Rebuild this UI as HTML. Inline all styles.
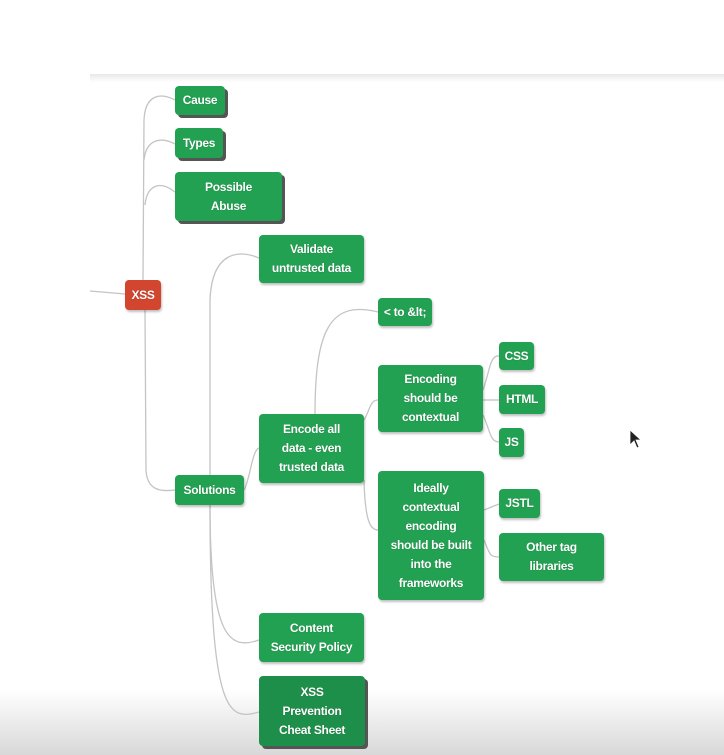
<!DOCTYPE html>
<html><head><style>
body{margin:0;width:724px;height:755px;overflow:hidden;background:#fff;font-family:"Liberation Sans",sans-serif;position:relative}
.bg{position:absolute;left:0;top:0;width:724px;height:755px;background:linear-gradient(#fff 0,#fff 690px,#d8d8d8 755px)}
.top{position:absolute;left:90px;top:74px;width:634px;height:8px;background:linear-gradient(#e8e8e8,#fff)}
.n{position:absolute;background:#23a152;color:#fff;font-weight:bold;font-size:12px;line-height:19px;letter-spacing:-0.3px;text-align:center;border-radius:4px;display:flex;align-items:center;justify-content:center;box-shadow:1px 2px 2px rgba(0,0,0,.25);text-shadow:0 0 1px rgba(0,0,0,.3)}
.d{box-shadow:3px 3px 0 #555}
.r{background:#d2452f}
svg{position:absolute;left:0;top:0}
</style></head><body>
<div class="bg"></div><div class="top"></div>
<svg width="724" height="755" fill="none" stroke="#c4c4c4" stroke-width="1.3">
<path d="M90 291 L125 294"/>
<path d="M143 280 L144 120 C145 95 160 92 175 100"/>
<path d="M144 160 C146 140 160 136 175 144"/>
<path d="M145 205 C147 185 160 180 175 192"/>
<path d="M145 310 L146 470 C147 490 160 492 175 490"/>
<path d="M244 490 C250 480 252 450 259 448"/>
<path d="M210 505 L210 300 C212 250 240 250 259 258"/>
<path d="M210 505 C210 640 230 650 259 640"/>
<path d="M210 505 C210 720 230 720 259 712"/>
<path d="M315 414 C315 330 330 300 378 312"/>
<path d="M364 420 C370 410 370 400 378 400"/>
<path d="M364 480 C365 520 370 530 378 530"/>
<path d="M483 390 C490 370 490 355 499 356"/>
<path d="M483 400 L499 400"/>
<path d="M483 415 C490 430 490 442 499 442"/>
<path d="M484 510 L499 504"/>
<path d="M484 540 C490 555 490 557 499 557"/>
</svg>
<div class="n r" style="left:125px;top:280px;width:36px;height:30px">XSS</div>
<div class="n d" style="left:175px;top:86px;width:50px;height:29px">Cause</div>
<div class="n d" style="left:175px;top:128px;width:48px;height:30px">Types</div>
<div class="n d" style="left:175px;top:172px;width:107px;height:49px">Possible<br>Abuse</div>
<div class="n" style="left:259px;top:235px;width:105px;height:48px">Validate<br>untrusted data</div>
<div class="n" style="left:378px;top:298px;width:54px;height:28px">&lt; to &amp;lt;</div>
<div class="n" style="left:378px;top:365px;width:105px;height:67px">Encoding<br>should be<br>contextual</div>
<div class="n" style="left:499px;top:342px;width:35px;height:28px">CSS</div>
<div class="n" style="left:499px;top:385px;width:46px;height:29px">HTML</div>
<div class="n" style="left:499px;top:428px;width:25px;height:29px">JS</div>
<div class="n" style="left:259px;top:414px;width:105px;height:69px">Encode all<br>data - even<br>trusted data</div>
<div class="n" style="left:175px;top:475px;width:69px;height:30px">Solutions</div>
<div class="n" style="left:378px;top:471px;width:106px;height:129px">Ideally<br>contextual<br>encoding<br>should be built<br>into the<br>frameworks</div>
<div class="n" style="left:499px;top:489px;width:41px;height:29px">JSTL</div>
<div class="n" style="left:499px;top:533px;width:105px;height:48px">Other tag<br>libraries</div>
<div class="n" style="left:259px;top:613px;width:105px;height:49px">Content<br>Security Policy</div>
<div class="n d" style="left:259px;top:676px;width:106px;height:70px;background:#1e8f4a">XSS<br>Prevention<br>Cheat Sheet</div>
<svg width="724" height="755" style="pointer-events:none"><path d="M630 430 L630 445 L634 441 L637 448 L639 447 L636 440 L641 440 Z" fill="#222" stroke="#fff" stroke-width="0.8"/></svg>
</body></html>
